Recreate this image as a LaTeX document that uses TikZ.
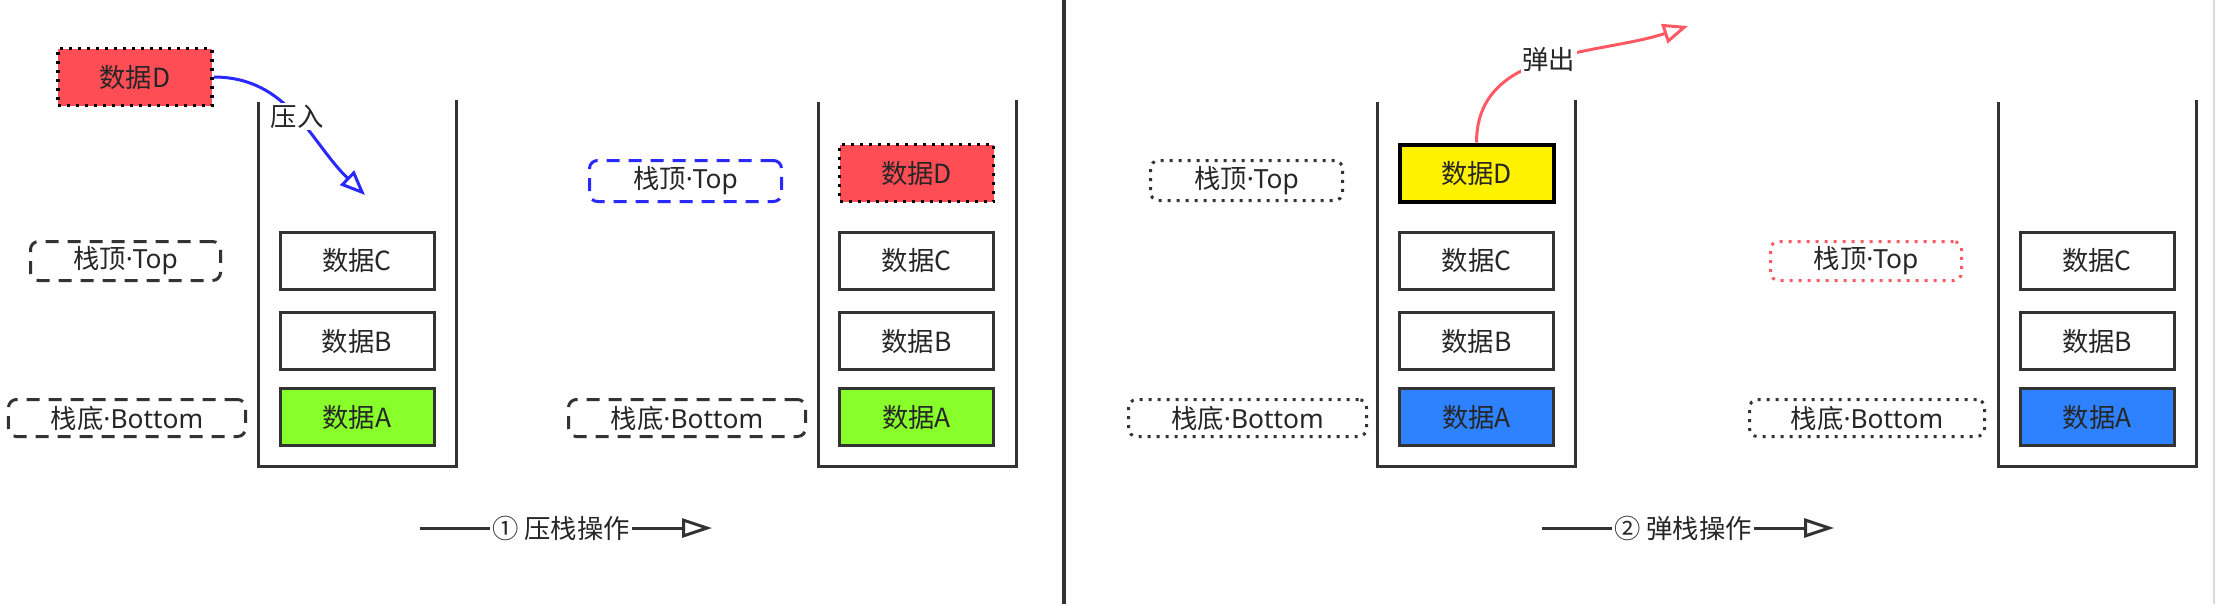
\documentclass[tikz,border=0pt]{standalone}
\usepackage{fontspec}
\setmainfont{Noto Sans CJK SC}
\newfontfamily\lat{Noto Sans}
\usetikzlibrary{arrows.meta}
\definecolor{dred}{RGB}{255,77,85}
\definecolor{dgreen}{RGB}{136,255,42}
\definecolor{dblue}{RGB}{46,130,255}
\definecolor{pblue}{RGB}{40,40,255}
\definecolor{pred}{RGB}{255,90,100}

\begin{document}
\begin{tikzpicture}[font=\fontsize{15pt}{18pt}\selectfont,text=black!85,
        block/.style={rectangle,draw=black!80,line width=.06cm,minimum width=3.08cm,minimum height=1.14cm,inner sep=0pt},
        ptr/.style={rectangle,rounded corners=.16cm,line width=.06cm,minimum height=.78cm,inner sep=0pt},
        ptrdash/.style={ptr,dash pattern=on .26cm off .18cm},
        ptrdot/.style={ptr,dash pattern=on .06cm off .12cm},
        wall/.style={draw=black!80,line width=.06cm},
        move/.style={line width=.06cm,-{Triangle[open,length=.5cm,width=.4cm]}},
        flow/.style={draw=black!80,line width=.06cm}]
        \useasboundingbox (0,0) rectangle (44.32,-12.08);
        % push
        \draw[wall] (5.16,-2.04) |- (9.12,-9.32) -- (9.12,-2.0);
        \node [block,fill=dred,draw=black,line width=.07cm,dash pattern=on .06cm off .12cm] (D1) at (2.70,-1.54) {数据D};
        \node [block] (C1) at (7.14,-5.21) {数据C};
        \node [block] (B1) at (7.14,-6.82) {数据B};
        \node [block,fill=dgreen] (A1) at (7.14,-8.34) {数据A};
        \node [ptrdash,draw=black!80,minimum width=3.80cm] (T1) at (2.51,-5.22) {栈顶{\lat ·Top}};
        \node [ptrdash,draw=black!80,minimum width=4.74cm,minimum height=.74cm] (Bt1) at (2.54,-8.36) {栈底{\lat ·Bottom}};
        \coordinate (push) at (7.30,-3.90);
        \draw[move,draw=pblue] (D1.east) to[out=0,in=136] node[fill=white,inner sep=1pt] {压入} (push);

        \draw[wall] (16.36,-2.04) |- (20.32,-9.32) -- (20.32,-2.0);
        \node [block,fill=dred,draw=black,line width=.07cm,dash pattern=on .06cm off .12cm] (D2) at (18.33,-3.46) {数据D};
        \node [block] (C2) at (18.33,-5.21) {数据C};
        \node [block] (B2) at (18.33,-6.82) {数据B};
        \node [block,fill=dgreen] (A2) at (18.33,-8.34) {数据A};
        \node [ptrdash,draw=pblue,minimum width=3.84cm,minimum height=.82cm] (T2) at (13.71,-3.62) {栈顶{\lat ·Top}};
        \node [ptrdash,draw=black!80,minimum width=4.74cm,minimum height=.74cm] (Bt2) at (13.74,-8.36) {栈底{\lat ·Bottom}};

        \node [inner sep=1pt] (op1) at (11.22,-10.56) {① 压栈操作};
        \coordinate (op1s) at (8.40,-10.56);
        \coordinate (op1e) at (14.24,-10.56);
        \draw[flow] (op1s) -- (op1.west);
        \draw[flow,-{Triangle[open,length=.6cm,width=.38cm]}] (op1.east) -- (op1e);

        \draw[line width=.08cm,black!80] (21.28,0) -- (21.28,-12.08);

        % pop
        \draw[wall] (27.54,-2.04) |- (31.50,-9.32) -- (31.50,-2.0);
        \node [block,fill=yellow,draw=black,line width=.08cm] (D3) at (29.53,-3.46) {数据D};
        \node [block] (C3) at (29.53,-5.21) {数据C};
        \node [block] (B3) at (29.53,-6.82) {数据B};
        \node [block,fill=dblue] (A3) at (29.53,-8.34) {数据A};
        \node [ptrdot,draw=black!80,minimum width=3.84cm,minimum height=.80cm] (T3) at (24.93,-3.61) {栈顶{\lat ·Top}};
        \node [ptrdot,draw=black!80,minimum width=4.76cm,minimum height=.74cm] (Bt3) at (24.95,-8.36) {栈底{\lat ·Bottom}};
        \coordinate (pop) at (33.76,-0.52);
        \draw[move,draw=pred] (D3.north) to[out=90,in=198] node[fill=white,inner sep=1pt] {弹出} (pop);

        \draw[wall] (39.96,-2.04) |- (43.92,-9.32) -- (43.92,-2.0);
        \node [block] (C4) at (41.94,-5.21) {数据C};
        \node [block] (B4) at (41.94,-6.82) {数据B};
        \node [block,fill=dblue] (A4) at (41.94,-8.34) {数据A};
        \node [ptrdot,draw=pred,minimum width=3.82cm] (T4) at (37.32,-5.22) {栈顶{\lat ·Top}};
        \node [ptrdot,draw=black!80,minimum width=4.70cm,minimum height=.74cm] (Bt4) at (37.34,-8.36) {栈底{\lat ·Bottom}};

        \node [inner sep=1pt] (op2) at (33.66,-10.56) {② 弹栈操作};
        \coordinate (op2s) at (30.84,-10.56);
        \coordinate (op2e) at (36.68,-10.56);
        \draw[flow] (op2s) -- (op2.west);
        \draw[flow,-{Triangle[open,length=.6cm,width=.38cm]}] (op2.east) -- (op2e);

        \draw[black!15,line width=.04cm] (44.28,0) -- (44.28,-12.08);
    \end{tikzpicture}
\end{document}
